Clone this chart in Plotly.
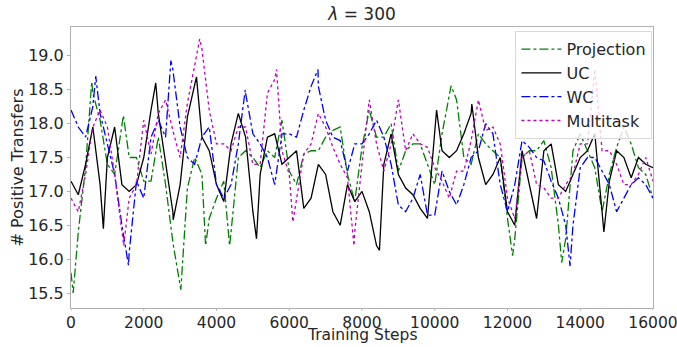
import plotly.graph_objects as go

steps = list(range(0, 16001, 200))

projection = [
    15.8, 16.4, 17.35, 18.45, 18.05, 17.4, 17.25, 17.95, 17.5, 17.5,
    17.15, 17.15, 17.8, 17.1, 16.25, 15.6, 17.05, 17.5, 17.25, 16.6,
    16.9, 17.15, 16.4, 17.5, 17.6, 17.5, 17.35, 17.6, 17.5, 18.05,
    17.3, 17.1, 17.55, 17.6, 17.6, 17.8, 17.9, 17.95, 17.25, 16.85,
    17.65, 18.2, 17.8, 17.8, 18.0, 17.3, 17.6, 17.7, 17.7, 17.4,
    17.1, 17.85, 18.45, 18.35, 17.5, 17.4, 17.85, 17.7, 17.6, 17.5,
    16.6, 16.3, 17.5, 17.6, 17.6, 17.75, 17.35, 16.5, 16.3, 17.6,
    17.85, 17.6, 17.35, 16.7, 17.25, 17.65, 17.95, 17.7, 17.35, 17.25,
    16.9,
]
uc = [
    17.15, 16.95, 17.4, 17.95, 17.1, 17.5, 17.95, 17.1, 17.0, 17.1,
    17.5, 18.2, 18.15, 17.45, 16.7, 17.1, 18.1, 18.55, 17.8, 17.6,
    17.1, 16.85, 17.7, 18.15, 17.8, 16.7, 17.25, 17.8, 17.85, 17.4,
    17.5, 17.6, 16.75, 16.9, 17.4, 17.25, 16.7, 16.5, 17.1, 16.85,
    17.0, 16.7, 16.2, 17.4, 17.85, 17.25, 17.05, 16.95, 16.75, 16.6,
    17.95, 17.6, 17.5, 17.6, 17.85, 18.15, 17.5, 17.1, 17.25, 17.5,
    16.7, 16.5, 17.6, 17.1, 16.6, 17.6, 17.7, 17.1, 17.0, 17.25,
    17.5, 17.6, 17.85, 16.7, 17.15, 17.6, 17.5, 17.2, 17.5, 17.4,
    17.35,
]
wc = [
    18.2, 17.95, 17.8, 18.25, 18.15, 17.7, 17.25, 16.5, 16.1, 17.15,
    16.9, 17.8, 18.05, 17.8, 18.8, 17.95, 17.5, 17.4, 17.8, 17.95,
    17.1, 16.9, 17.1, 17.7, 18.45, 17.85, 17.7, 17.5, 17.1, 17.85,
    17.85, 17.8, 18.2, 18.55, 18.55, 18.05, 17.8, 17.75, 17.3, 17.7,
    17.7, 17.85, 18.05, 17.8, 17.4, 16.8, 16.7, 16.9, 17.25, 16.65,
    16.65, 17.3, 17.0, 16.8, 17.1, 17.5, 17.6, 18.0, 17.85, 17.1,
    16.7, 17.1, 17.75, 17.65, 17.5, 17.45, 17.15, 16.9, 16.5, 16.5,
    17.35, 17.5, 17.5, 17.3, 17.1, 16.7, 16.9, 17.1, 17.2, 17.1,
    16.9,
]
multitask = [
    16.9, 16.7, 17.25, 17.95, 18.2, 17.95, 17.25, 16.4, 16.9, 17.1,
    18.05, 17.55, 18.15, 18.35, 17.9, 17.5, 18.3, 18.85, 19.1, 18.2,
    17.7, 17.7, 17.6, 17.95, 17.95, 17.4, 17.4, 18.45, 18.65, 17.6,
    17.25, 16.9, 17.55, 17.7, 18.15, 17.95, 17.65, 17.4, 17.2, 16.4,
    17.4, 18.35, 17.7, 17.3, 17.7, 18.35, 17.6, 17.85, 17.7, 17.65,
    17.35, 17.15, 16.9, 17.3, 17.3, 17.75, 18.35, 17.9, 17.95, 17.7,
    16.9, 16.6, 17.5, 17.6, 17.1, 17.05, 16.9, 16.9, 17.1, 17.25,
    17.7, 17.7, 18.45, 17.6, 17.6, 17.4, 17.1, 17.1, 17.25, 17.5,
    17.15,
]

# local extremes: (training step, value)
projection_peaks = [(60, 15.5), (570, 18.62), (1440, 18.12), (3020, 15.55),
                    (3700, 16.2), (4360, 16.2), (10450, 18.56), (12140, 16.05),
                    (13490, 15.95)]
uc_peaks = [(890, 16.45), (2330, 18.6), (2810, 16.58), (3450, 18.69),
            (5100, 16.3), (8480, 16.13), (10050, 18.2), (11020, 18.29),
            (14650, 16.4)]
wc_peaks = [(680, 18.7), (1580, 15.91), (2745, 18.93), (4790, 18.5),
            (6790, 18.8), (13720, 15.9)]
multitask_peaks = [(1450, 16.2), (3540, 19.25), (5650, 18.8), (6100, 16.55),
                   (7780, 16.2), (14400, 18.8)]


def merged(base, peaks):
    pts = {s: v for s, v in zip(steps, base)}
    for s, v in peaks:
        pts[s] = v
    xs = sorted(pts)
    return xs, [pts[s] for s in xs]


series = [
    ("Projection", projection, projection_peaks, "#008000", "dashdot"),
    ("UC", uc, uc_peaks, "#000000", "solid"),
    ("WC", wc, wc_peaks, "#0000ff", "dashdot"),
    ("Multitask", multitask, multitask_peaks, "#bf00bf", "dot"),
]

x_ticks = list(range(0, 16001, 2000))
y_ticks = [15.5, 16.0, 16.5, 17.0, 17.5, 18.0, 18.5, 19.0]

fig = go.Figure()
for name, vals, peaks, color, dash in series:
    xs, ys = merged(vals, peaks)
    fig.add_trace(go.Scatter(
        x=xs, y=ys, mode="lines", name=name,
        line=dict(color=color, width=1.3, dash=dash),
    ))

font_family = "DejaVu Sans"
axis_color = "#b0b0b0"

# small outside tick marks on the x axis (labels sit close to the axis)
for t in x_ticks:
    fig.add_shape(type="line", xref="x", yref="paper", x0=t, x1=t, y0=0, y1=-0.01,
                  line=dict(color=axis_color, width=1), layer="above")

fig.add_annotation(text="Training Steps", xref="paper", yref="paper",
                   x=0.5, y=-0.137, xanchor="center", yanchor="bottom",
                   showarrow=False, font=dict(family=font_family, size=15.5, color="#262626"))

fig.update_layout(
    width=677, height=347,
    margin=dict(l=71, r=24, t=27, b=39),
    paper_bgcolor="white", plot_bgcolor="white",
    font=dict(family=font_family, size=16, color="#262626"),
    title=dict(text="<i>λ</i> = 300", x=0.5, xref="paper", xanchor="center",
               y=1, yref="container", yanchor="top", pad=dict(t=8),
               font=dict(family=font_family, size=17, color="#262626")),
    showlegend=True,
    legend=dict(x=0.999, y=0.985, xanchor="right", yanchor="top",
                bgcolor="rgba(255,255,255,0.8)", bordercolor="#d9d9d9",
                borderwidth=1, font=dict(family=font_family, size=16, color="#262626"),
                tracegroupgap=0, itemwidth=40),
)
fig.update_xaxes(
    range=[0, 16000], tickvals=x_ticks, ticktext=[str(t) for t in x_ticks],
    showgrid=False, zeroline=False, showline=True, linecolor=axis_color,
    linewidth=1, mirror=True, ticks="", ticklen=0,
    ticklabeloverflow="allow", automargin=False,
    tickfont=dict(size=15.5),
)
fig.update_yaxes(
    range=[15.279, 19.426], tickvals=y_ticks, ticktext=[f"{t:.1f}" for t in y_ticks],
    showgrid=False, zeroline=False, showline=True, linecolor=axis_color,
    linewidth=1, mirror=True, ticks="outside", ticklen=3, tickcolor=axis_color,
    automargin=False,
    title=dict(text="# Positive Transfers", standoff=0, font=dict(size=16)),
    tickfont=dict(size=16),
)

fig.write_html("out.html")
